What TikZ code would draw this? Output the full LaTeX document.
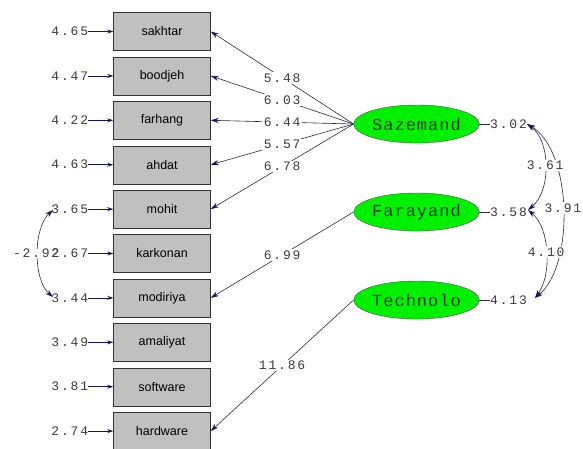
\documentclass[tikz,border=0pt]{standalone}
\usepackage{fontspec}
\usetikzlibrary{arrows.meta,shapes.geometric}
\newfontfamily\numfont[LetterSpace=14]{Liberation Mono}
\newfontfamily\elfont[LetterSpace=6]{Liberation Mono}
\newfontfamily\boxfont{Liberation Sans}
\definecolor{navy}{RGB}{20,20,100}
\definecolor{lnc}{RGB}{40,40,80}
\definecolor{boxgray}{RGB}{192,192,192}
\definecolor{elgreen}{RGB}{0,240,0}
\definecolor{eltext}{RGB}{25,60,25}
\definecolor{numc}{RGB}{60,60,60}
\tikzset{
  obs/.style={draw=black!80, fill=boxgray, minimum width=97pt, minimum height=38pt, inner sep=0pt, font=\boxfont\fontsize{12.5}{14}\selectfont},
  lat/.style={ellipse, draw=black!70, fill=elgreen, minimum width=97pt, minimum height=38pt, inner sep=0pt, text=eltext, font=\elfont\fontsize{17}{19}\selectfont},
  num/.style={inner sep=0pt, text=numc, font=\numfont\fontsize{13}{15}\selectfont},
  lab/.style={num, fill=white, inner sep=1.5pt},
  arr/.style={draw=lnc, line width=0.6pt, -{Stealth[length=8pt,width=5pt,fill=navy,color=navy]}},
  darr/.style={draw=lnc, line width=0.6pt, {Stealth[length=8pt,width=5pt,fill=navy,color=navy]}-{Stealth[length=8pt,width=5pt,fill=navy,color=navy]}},
  earr/.style={draw=navy, line width=0.8pt, -{Stealth[length=6pt,width=4pt,fill=navy,color=navy]}},
  plain/.style={draw=lnc, line width=0.6pt}
}
\begin{document}
\begin{tikzpicture}[x=1pt,y=-1pt]
\useasboundingbox (0,0) rectangle (583,448);
% observed variables
\node[obs] (b1) at (162,31.5) {sakhtar};
\node[obs] (b2) at (162,75.9) {boodjeh};
\node[obs] (b3) at (162,120.3) {farhang};
\node[obs] (b4) at (162,164.7) {ahdat};
\node[obs] (b5) at (162,209.1) {mohit};
\node[obs] (b6) at (162,253.5) {karkonan};
\node[obs] (b7) at (162,297.9) {modiriya};
\node[obs] (b8) at (162,342.3) {amaliyat};
\node[obs] (b9) at (162,386.7) {software};
\node[obs] (b10) at (162,431.1) {hardware};
% left covariance
\coordinate (m1) at (53,210);
\coordinate (m2) at (53,297);
\draw[darr] (m1) .. controls (33,228) and (33,280) .. (m2);
\node[lab, anchor=east, inner sep=0pt] (cv) at (59.6,253.5) {-2.92};
% error labels
\foreach \i/\v in {1/4.65,2/4.47,3/4.22,4/4.63,5/3.65,6/2.67,7/3.44,8/3.49,9/3.81,10/2.74}{
  \node[num, anchor=east] (e\i) at ([xshift=-25pt]b\i.west) {\v};
  \draw[earr] (e\i.east) -- (b\i.west);
}
% latent variables
\node[lat] (saz) at (416.5,124) {Sazemand};
\node[lat] (far) at (416.5,212) {Farayand};
\node[lat] (tec) at (416.5,300) {Technolo};
% loadings
\draw[arr] (saz.west) -- node[lab, pos=0.5]{5.48} (b1.east);
\draw[arr] (saz.west) -- node[lab, pos=0.5]{6.03} (b2.east);
\draw[arr] (saz.west) -- node[lab, pos=0.5]{6.44} (b3.east);
\draw[arr] (saz.west) -- node[lab, pos=0.5]{5.57} (b4.east);
\draw[arr] (saz.west) -- node[lab, pos=0.5]{6.78} (b5.east);
\draw[arr] (far.west) -- node[lab, pos=0.5]{6.99} (b7.east);
\draw[arr] (tec.west) -- node[lab, pos=0.5]{11.86} (b10.east);
% latent error labels
\node[num, anchor=west] (r1) at (490,124) {3.02};
\node[num, anchor=west] (r2) at (490,212) {3.58};
\node[num, anchor=west] (r3) at (490,300) {4.13};
\draw[plain] (saz.east) -- (r1.west);
\draw[plain] (far.east) -- (r2.west);
\draw[plain] (tec.east) -- (r3.west);
% covariances among latent variables
\coordinate (c1) at (527,124);
\coordinate (c2) at (528,210);
\coordinate (c3) at (535,298);
\draw[darr] (c1) .. controls (572,150) and (575,265) .. node[lab, pos=0.5]{3.91} (c3);
\draw[darr] (c1) .. controls (550,140) and (552,190) .. node[lab, pos=0.5]{3.61} (c2);
\draw[darr] (c2) .. controls (550,228) and (552,275) .. node[lab, pos=0.5]{4.10} (c3);
\end{tikzpicture}
\end{document}
